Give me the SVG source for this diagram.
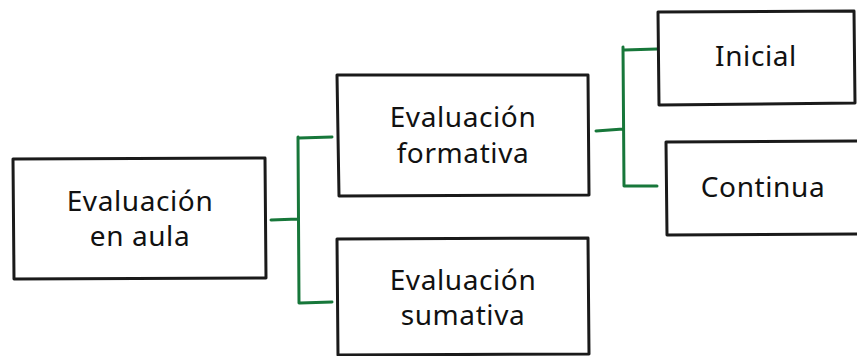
<svg xmlns="http://www.w3.org/2000/svg" width="857" height="356" viewBox="0 0 857 356">
<style>
.box{fill:#fff;stroke:#1a1a1a;stroke-width:3;stroke-linejoin:round;stroke-linecap:round}
.lbl{font-family:"Noto Sans","DejaVu Sans",sans-serif;font-size:28px;fill:#111;text-anchor:middle;letter-spacing:0.6px}
.con{fill:none;stroke:#17773a;stroke-width:3;stroke-linecap:round;stroke-linejoin:round}
</style>
<rect width="857" height="356" fill="#fff"/>
<g id="connectors">
<path class="con" d="M271 220 L298 219 M298 137 L299 303 M299 138 L332 137 M300 303 L332 302"/>
<path class="con" d="M596 131 L623 129 M623 47 L624 186 M624 50 L657 49 M625 186 L657 186"/>
</g>
<g id="n-aula">
<path class="box" d="M13 159 L265 158 L266 278 L14 279 Z"/>
<text class="lbl" x="140" y="211">Evaluación</text>
<text class="lbl" x="140" y="246">en aula</text>
</g>
<g id="n-formativa">
<path class="box" d="M337 75 L588 75 L589 195 L339 196 Z"/>
<text class="lbl" x="463" y="127">Evaluación</text>
<text class="lbl" x="463" y="163">formativa</text>
</g>
<g id="n-sumativa">
<path class="box" d="M337 239 L588 238 L589 354 L338 355 Z"/>
<text class="lbl" x="463" y="290">Evaluación</text>
<text class="lbl" x="463" y="325">sumativa</text>
</g>
<g id="n-inicial">
<path class="box" d="M658 12 L854 11 L855 103 L659 105 Z"/>
<text class="lbl" x="756" y="66">Inicial</text>
</g>
<g id="n-continua">
<path class="box" d="M666 142 L860 141 L860 234 L667 235 Z"/>
<text class="lbl" x="763" y="197">Continua</text>
</g>
</svg>
